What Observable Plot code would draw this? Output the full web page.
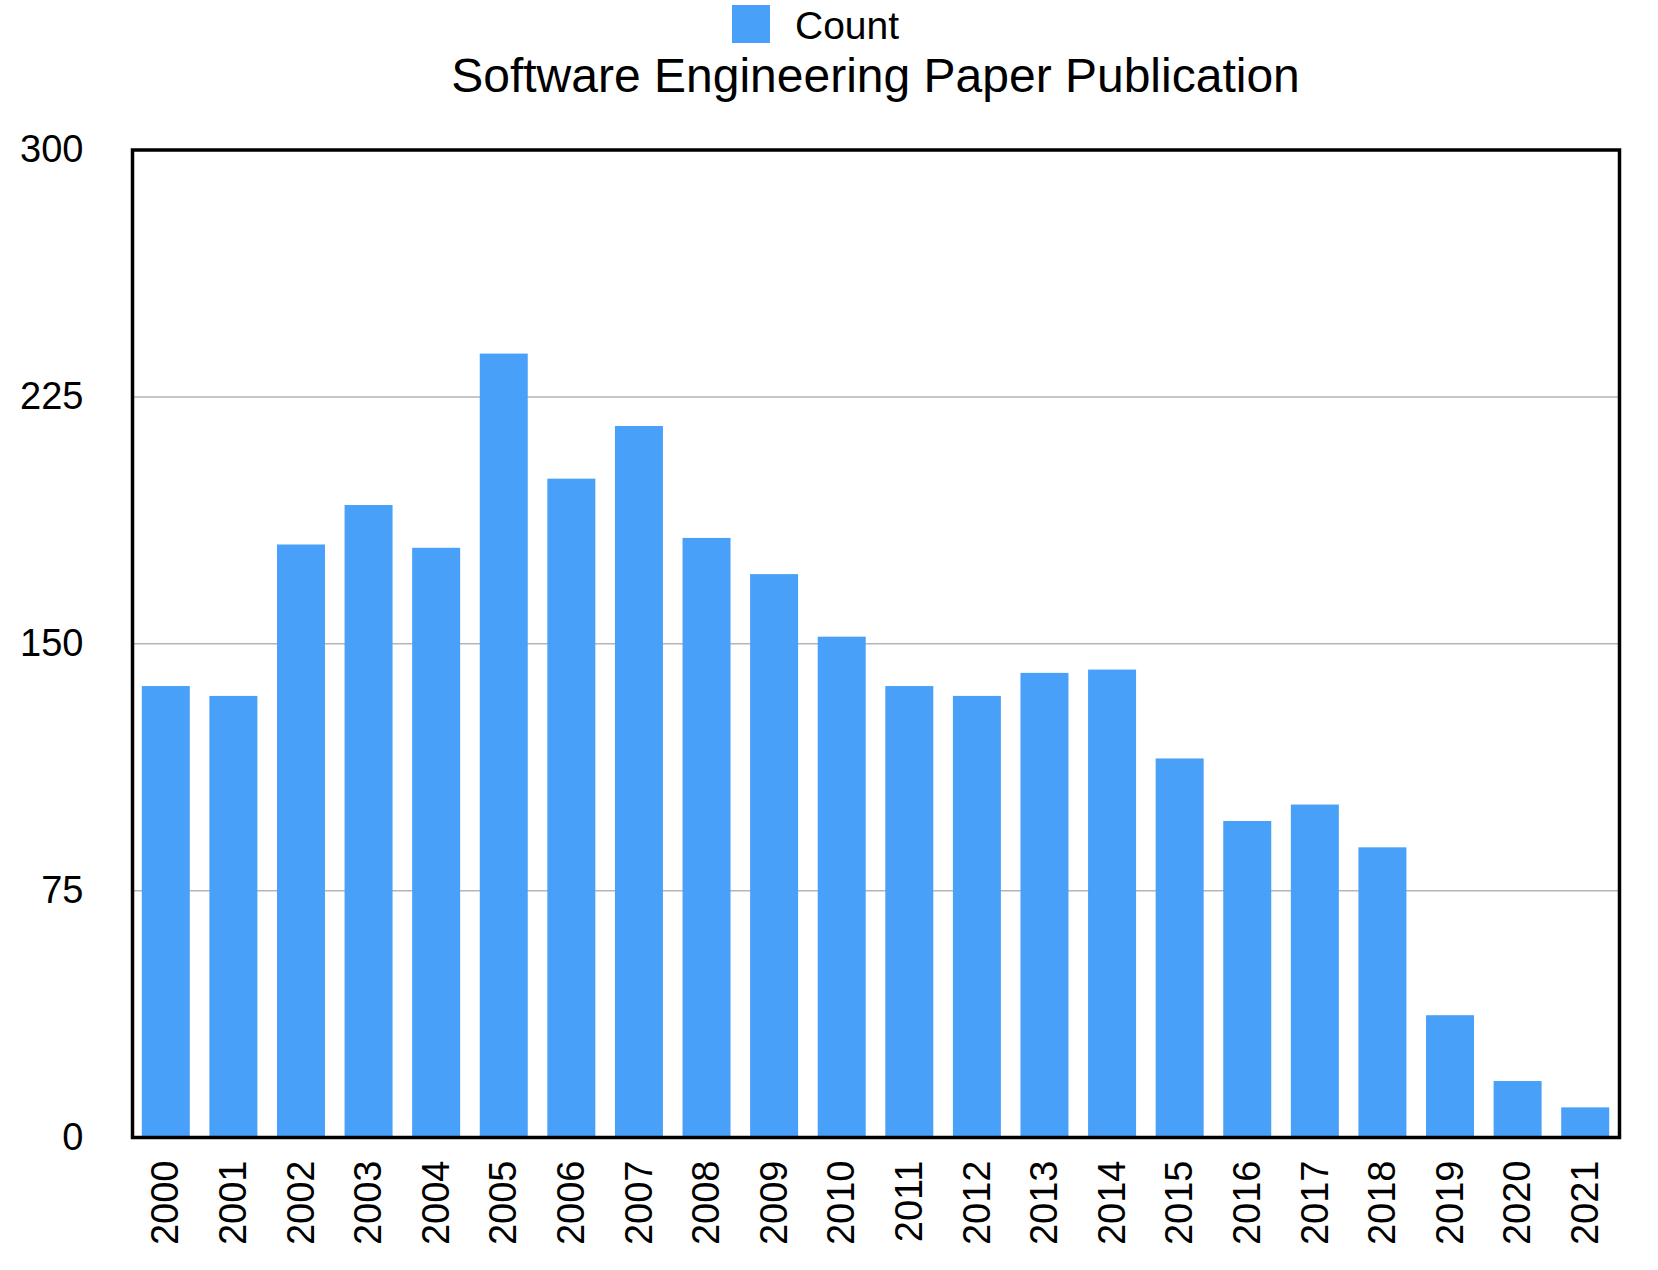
<!DOCTYPE html>
<html>
<head>
<meta charset="utf-8">
<script src="https://cdn.jsdelivr.net/npm/d3@7"></script>
<script src="https://cdn.jsdelivr.net/npm/@observablehq/plot@0.6"></script>
<style>
  html, body { margin: 0; padding: 0; background: white; }
  #wrap { width: 1658px; font-family: "Liberation Sans", Arial, Helvetica, sans-serif; color: black; }
  #header { position: relative; width: 1658px; height: 110px; }
  #legend-swatch { position: absolute; left: 732px; top: 5px; width: 38px; height: 38px; background: #48a0f8; }
  #legend-label { position: absolute; left: 795px; top: 6px; font-size: 39px; line-height: 39px; white-space: nowrap; }
  #title { position: absolute; left: 132px; width: 1487px; top: 52px; text-align: center; font-size: 48px; line-height: 48px; white-space: nowrap; }
  svg { display: block; }
</style>
</head>
<body>
<div id="wrap">
  <div id="header">
    <div id="legend-swatch"></div>
    <div id="legend-label">Count</div>
    <div id="title">Software Engineering Paper Publication</div>
  </div>
  <div id="chart"></div>
</div>
<script>
const years = ["2000","2001","2002","2003","2004","2005","2006","2007","2008","2009","2010",
               "2011","2012","2013","2014","2015","2016","2017","2018","2019","2020","2021"];
const counts = [137,134,180,192,179,238,200,216,182,171,152,137,134,141,142,115,96,101,88,37,17,9];
const yTicks = [0,75,150,225,300];
const gridTicks = [75,150,225];

const data = years.map((year, i) => ({year, count: counts[i]}));

const chart = Plot.plot({
  width: 1658,
  height: 1160,
  marginTop: 39.5,
  marginBottom: 133,
  marginLeft: 132,
  marginRight: 39,
  style: {fontFamily: '"Liberation Sans", Arial, Helvetica, sans-serif', fontSize: "38px", color: "black", background: "white"},
  x: {domain: years, padding: 0, round: false, label: null},
  y: {domain: [0, 300], label: null},
  marks: [
    Plot.gridY(gridTicks, {stroke: "#b5b5b5", strokeOpacity: 1, strokeWidth: 1.5}),
    Plot.barY(data, {x: "year", y: "count", fill: "#48a0f8", insetLeft: 9.8, insetRight: 9.8}),
    Plot.axisY(yTicks, {tickSize: 0, tickPadding: 49, fontSize: 38, label: null}),
    Plot.axisX({tickSize: 0, tickPadding: 23, tickRotate: -90, fontSize: 38, label: null}),
    Plot.frame({stroke: "black", strokeWidth: 3.5})
  ]
});
document.getElementById("chart").appendChild(chart);
</script>
</body>
</html>
